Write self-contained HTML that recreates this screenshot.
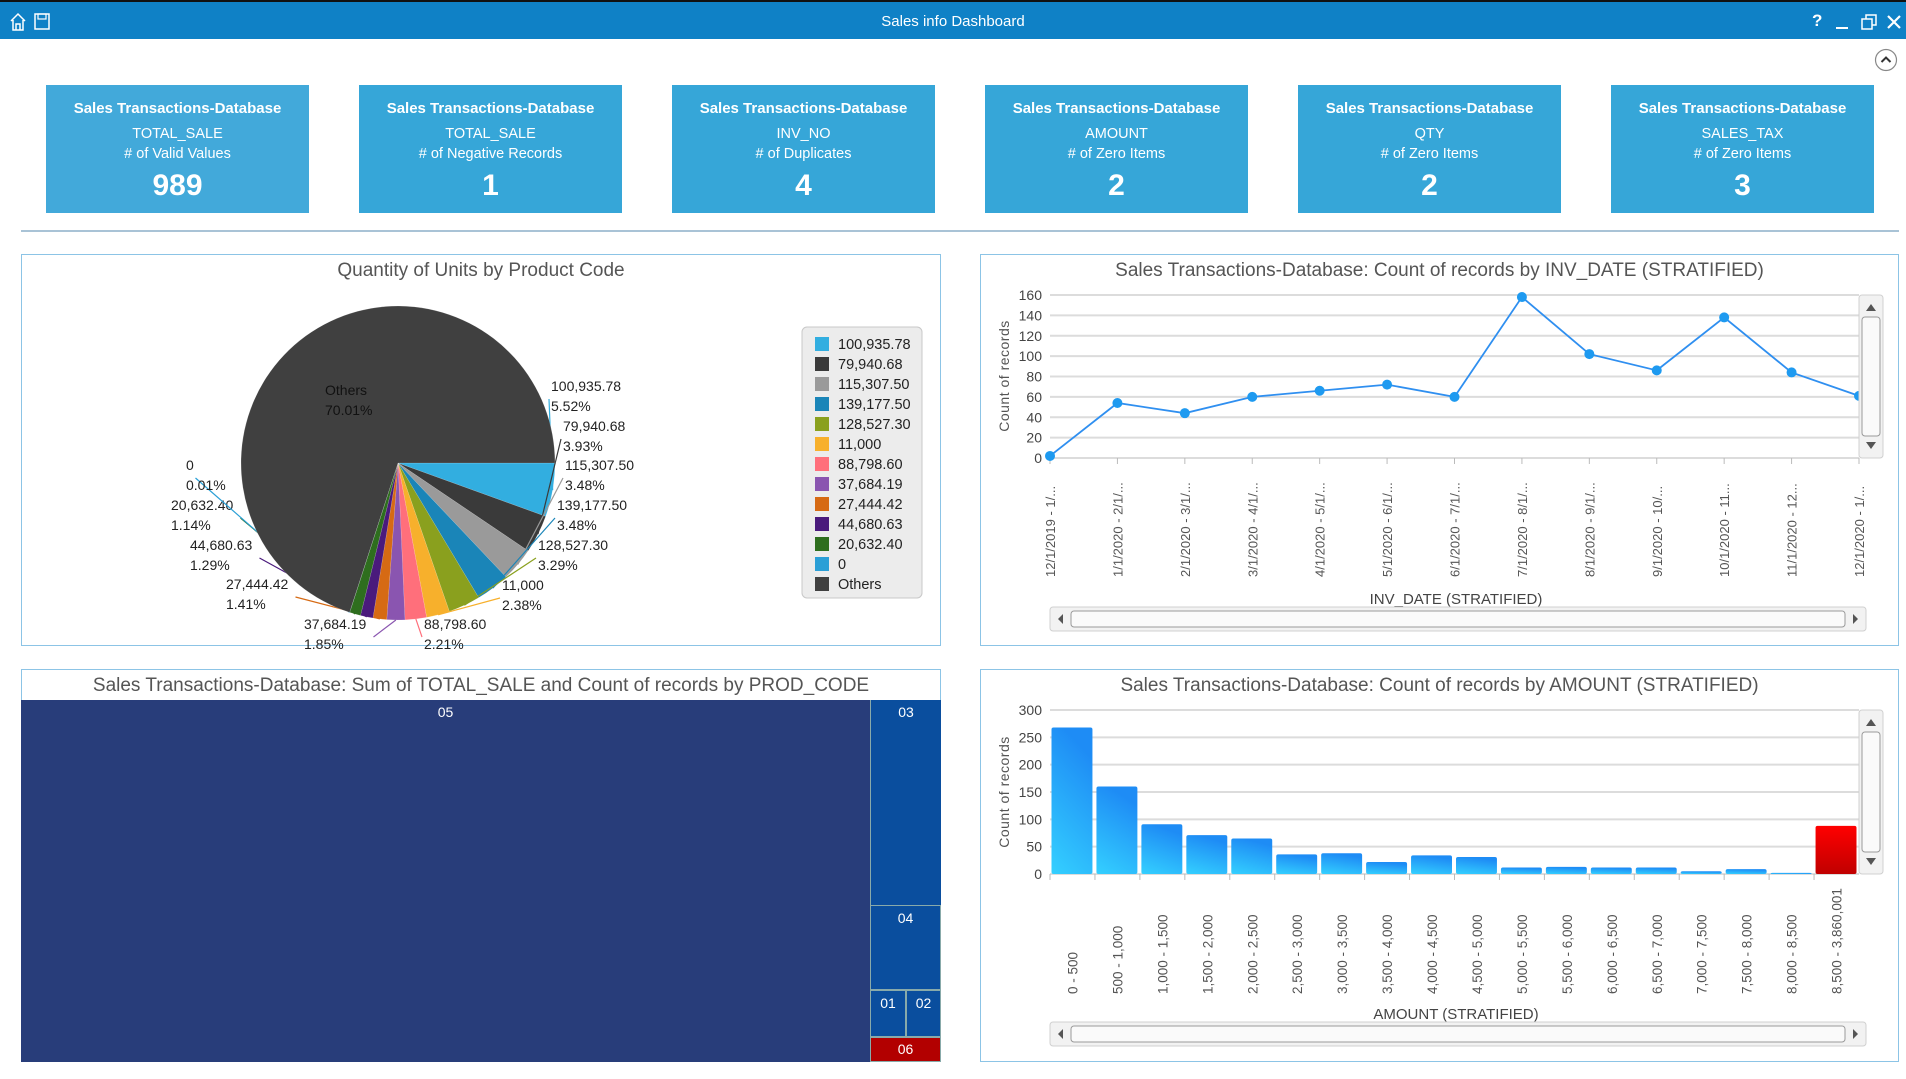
<!DOCTYPE html>
<html><head><meta charset="utf-8">
<style>
*{box-sizing:border-box;margin:0;padding:0}
body{width:1906px;height:1079px;background:#fff;font-family:"Liberation Sans",sans-serif;position:relative;overflow:hidden}
.abs{position:absolute}
#titlebar{left:0;top:0;width:1906px;height:39px;background:#0f81c6;border-top:2px solid #111}
#titlebar .t{position:absolute;left:0;width:100%;top:11px;text-align:center;color:#fff;font-size:15px}
.card{position:absolute;top:85px;width:263px;height:128px;background:#36a6d8;color:#fff;text-align:center}
.card .h{margin-top:15px;font-weight:bold;font-size:15px}
.card .f{margin-top:9px;font-size:14.5px}
.card .m{margin-top:4px;font-size:14.5px}
.card .n{margin-top:7px;font-size:30px;font-weight:bold}
.panel{position:absolute;border:1px solid #8cc4e6;background:#fff}
.ptitle{position:absolute;left:0;width:100%;text-align:center;font-size:19px;color:#555;top:5px}
svg text{font-family:"Liberation Sans",sans-serif}
</style></head><body>
<div id="titlebar" class="abs">
  <svg class="abs" style="left:9px;top:10px" width="44" height="20">
    <path d="M2 9 L9 2 L16 9 M4 8 V18 H14 V8 M7 18 V12 H11 V18" fill="none" stroke="#fff" stroke-width="1.5"/>
    <rect x="26" y="2" width="14" height="15" fill="none" stroke="#fff" stroke-width="1.5"/>
    <rect x="29" y="2" width="8" height="5" fill="none" stroke="#fff" stroke-width="1.2"/>
  </svg>
  <div class="t">Sales info Dashboard</div>
  <div class="abs" style="left:1812px;top:9px;color:#fff;font-weight:bold;font-size:17px">?</div>
  <div class="abs" style="left:1836px;top:25px;width:12px;height:2px;background:#fff"></div>
  <svg class="abs" style="left:1861px;top:12px" width="16" height="16"><rect x="1" y="5" width="10" height="10" fill="none" stroke="#fff" stroke-width="1.5"/><path d="M5 5 V1 H15 V11 H11" fill="none" stroke="#fff" stroke-width="1.5"/></svg>
  <svg class="abs" style="left:1887px;top:13px" width="14" height="14"><path d="M1 1 L13 13 M13 1 L1 13" stroke="#fff" stroke-width="2.2"/></svg>
</div>
<svg class="abs" style="left:1874px;top:48px" width="24" height="24"><circle cx="12" cy="12" r="10.5" fill="#fff" stroke="#888" stroke-width="1.2"/><path d="M7.5 14 L12 9.5 L16.5 14" fill="none" stroke="#333" stroke-width="2"/></svg>

<div class="card" style="left:46px;background:#42a9da"><div class="h">Sales Transactions-Database</div><div class="f">TOTAL_SALE</div><div class="m"># of Valid Values</div><div class="n">989</div></div>
<div class="card" style="left:359px"><div class="h">Sales Transactions-Database</div><div class="f">TOTAL_SALE</div><div class="m"># of Negative Records</div><div class="n">1</div></div>
<div class="card" style="left:672px"><div class="h">Sales Transactions-Database</div><div class="f">INV_NO</div><div class="m"># of Duplicates</div><div class="n">4</div></div>
<div class="card" style="left:985px"><div class="h">Sales Transactions-Database</div><div class="f">AMOUNT</div><div class="m"># of Zero Items</div><div class="n">2</div></div>
<div class="card" style="left:1298px"><div class="h">Sales Transactions-Database</div><div class="f">QTY</div><div class="m"># of Zero Items</div><div class="n">2</div></div>
<div class="card" style="left:1611px"><div class="h">Sales Transactions-Database</div><div class="f">SALES_TAX</div><div class="m"># of Zero Items</div><div class="n">3</div></div>
<div class="abs" style="left:21px;top:230px;width:1878px;height:2px;background:#a9c3d6"></div>

<div class="panel" style="left:21px;top:254px;width:920px;height:392px">
  <div class="ptitle">Quantity of Units by Product Code</div>
</div>
<div class="panel" style="left:980px;top:254px;width:919px;height:392px">
  <div class="ptitle">Sales Transactions-Database: Count of records by INV_DATE (STRATIFIED)</div>
</div>
<div class="panel" style="left:21px;top:669px;width:920px;height:393px">
  <div class="ptitle">Sales Transactions-Database: Sum of TOTAL_SALE and Count of records by PROD_CODE</div>
</div>
<div class="panel" style="left:980px;top:669px;width:919px;height:393px">
  <div class="ptitle">Sales Transactions-Database: Count of records by AMOUNT (STRATIFIED)</div>
</div>

<div class="abs" style="left:21px;top:700px;width:920px;height:362px">
  <div class="abs" style="left:0;top:0;width:849px;height:362px;background:#283d7a;color:#fff;text-align:center;font-size:14px;padding-top:4px">05</div>
  <div class="abs" style="left:849px;top:0;width:71px;height:205px;background:#0a4e9e;color:#fff;text-align:center;font-size:14px;padding-top:4px;border-left:1px solid #8aa;">03</div>
  <div class="abs" style="left:849px;top:205px;width:71px;height:85px;background:#0a4e9e;color:#fff;text-align:center;font-size:14px;padding-top:4px;border:1px solid #8aa">04</div>
  <div class="abs" style="left:849px;top:290px;width:36px;height:47px;background:#0a4e9e;color:#fff;text-align:center;font-size:14px;padding-top:4px;border:1px solid #8aa">01</div>
  <div class="abs" style="left:885px;top:290px;width:35px;height:47px;background:#0a4e9e;color:#fff;text-align:center;font-size:14px;padding-top:4px;border:1px solid #8aa">02</div>
  <div class="abs" style="left:849px;top:337px;width:71px;height:25px;background:#b20000;color:#fff;text-align:center;font-size:14px;padding-top:3px;border:1px solid #8aa">06</div>
</div>

<svg id="charts" class="abs" style="left:0;top:0" width="1906" height="1079"></svg>

<script>
const pieLabels=["100,935.78","79,940.68","115,307.50","139,177.50","128,527.30","11,000","88,798.60","37,684.19","27,444.42","44,680.63","20,632.40","0","Others"];
const piePercents=[5.52,3.93,3.48,3.48,3.29,2.38,2.21,1.85,1.41,1.29,1.14,0.01,70.01];
const pieColors=["#32aee0","#3a3a3a","#9a9a9a","#1a85b8","#8aa01e","#f7b02c","#ff6f7b","#8a55b0","#d66a14","#4a1a7c","#2e6e1e","#2a9fd6","#404040"];
const lineCategories=["12/1/2019 - 1/...","1/1/2020 - 2/1/...","2/1/2020 - 3/1/...","3/1/2020 - 4/1/...","4/1/2020 - 5/1/...","5/1/2020 - 6/1/...","6/1/2020 - 7/1/...","7/1/2020 - 8/1/...","8/1/2020 - 9/1/...","9/1/2020 - 10/...","10/1/2020 - 11...","11/1/2020 - 12...","12/1/2020 - 1/..."];
const lineValues=[2,54,44,60,66,72,60,158,102,86,138,84,61];
const lineTicks=[0,20,40,60,80,100,120,140,160];
const barCategories=["0 - 500","500 - 1,000","1,000 - 1,500","1,500 - 2,000","2,000 - 2,500","2,500 - 3,000","3,000 - 3,500","3,500 - 4,000","4,000 - 4,500","4,500 - 5,000","5,000 - 5,500","5,500 - 6,000","6,000 - 6,500","6,500 - 7,000","7,000 - 7,500","7,500 - 8,000","8,000 - 8,500","8,500 - 3,860,001"];
const barValues=[268,160,91,71,65,36,38,22,34,31,12,13,12,12,5,9,2,88];
const barTicks=[0,50,100,150,200,250,300];

const NS="http://www.w3.org/2000/svg";
const svg=document.getElementById('charts');
function mk(tag,attrs,parent,text){const e=document.createElementNS(NS,tag);for(const k in attrs)e.setAttribute(k,attrs[k]);if(text!==undefined)e.textContent=text;(parent||svg).appendChild(e);return e;}

const defs=mk('defs',{});
const g1=mk('linearGradient',{id:'barGrad',x1:'0',y1:'1',x2:'0.3',y2:'0'},defs);
mk('stop',{offset:'0','stop-color':'#34d0ff'},g1);mk('stop',{offset:'1','stop-color':'#1e8cf5'},g1);
const g2=mk('linearGradient',{id:'redGrad',x1:'0',y1:'1',x2:'0',y2:'0'},defs);
mk('stop',{offset:'0','stop-color':'#c00000'},g2);mk('stop',{offset:'1','stop-color':'#ff0000'},g2);

// ---- PIE ----
const cx=398,cy=463,R=157;
let total=piePercents.reduce((a,b)=>a+b,0);
let ang=0;
const labelPos=[[551,387],[563,427],[565,466],[557,506],[538,546],[502,586],[424,625],[304,625],[226,585],[190,546],[171,506],[186,466]];
piePercents.forEach((p,i)=>{
  const a0=ang, a1=ang+p/total*2*Math.PI; ang=a1;
  const x0=cx+R*Math.cos(a0),y0=cy+R*Math.sin(a0),x1=cx+R*Math.cos(a1),y1=cy+R*Math.sin(a1);
  const large=(a1-a0)>Math.PI?1:0;
  const s=mk('path',{d:`M${cx},${cy} L${x0},${y0} A${R},${R} 0 ${large} 1 ${x1},${y1} Z`,fill:pieColors[i],stroke:'rgba(255,255,255,0.25)','stroke-width':0.5});
  
  
  if(i<labelPos.length){
    const am=(a0+a1)/2, lp=labelPos[i];
    const ex=cx+R*Math.cos(am), ey=cy+R*Math.sin(am);
    const right=lp[0]>cx;
    const lx=right?lp[0]-2:lp[0]+ (pieLabels[i].length*7.5)+2;
    const ly=lp[1]+12;
    const l=mk('line',{x1:ex,y1:ey,x2:lx,y2:ly,stroke:pieColors[i],'stroke-width':1.2});
    
    
    const t=mk('text',{x:lp[0],y:lp[1]+4,'font-size':14,fill:'#222'},undefined,pieLabels[i]);
    
    
    const t2=mk('text',{x:lp[0],y:lp[1]+24,'font-size':14,fill:'#222'},undefined,piePercents[i].toFixed(2)+'%');
    
    
  }
});
const ot=mk('text',{x:325,y:395,'font-size':14,fill:'#111'},undefined,'Others');


const op=mk('text',{x:325,y:415,'font-size':14,fill:'#111'},undefined,piePercents[12].toFixed(2)+'%');


const lg=mk('rect',{x:802,y:327,width:120,height:271,rx:5,fill:'#ececec',stroke:'#c8c8c8'});


pieLabels.forEach((lab,i)=>{
  const y=344+i*20;
  const sw=mk('rect',{x:815,y:y-7,width:14,height:14,fill:pieColors[i]});
  
  
  const t=mk('text',{x:838,y:y+5,'font-size':14.5,fill:'#222'},undefined,lab);
  
  
});

function vscroll(x,y0,y1,name){
  const g=mk('g',{});
  mk('rect',{x:x,y:y0,width:24,height:y1-y0,rx:3,fill:'#f2f2f2',stroke:'#d0d0d0'},g);
  mk('path',{d:`M${x+7},${y0+16} L${x+12},${y0+9} L${x+17},${y0+16}Z`,fill:'#555'},g);
  mk('path',{d:`M${x+7},${y1-16} L${x+12},${y1-9} L${x+17},${y1-16}Z`,fill:'#555'},g);
  mk('rect',{x:x+3,y:y0+22,width:18,height:y1-y0-44,rx:3,fill:'#fafafa',stroke:'#999'},g);
}
function hscroll(x0,x1,y,name){
  const g=mk('g',{});
  mk('rect',{x:x0,y:y,width:x1-x0,height:24,rx:3,fill:'#f2f2f2',stroke:'#d0d0d0'},g);
  mk('path',{d:`M${x0+13},${y+7} L${x0+8},${y+12} L${x0+13},${y+17}Z`,fill:'#555'},g);
  mk('path',{d:`M${x1-13},${y+7} L${x1-8},${y+12} L${x1-13},${y+17}Z`,fill:'#555'},g);
  mk('rect',{x:x0+21,y:y+4,width:x1-x0-42,height:16,rx:3,fill:'#fafafa',stroke:'#999'},g);
}

// ---- LINE CHART ----
const LX0=1050,LX1=1859,LY0=458,LY1=295,LMAX=160;
const lx=i=>LX0+i*(LX1-LX0)/(lineCategories.length-1);
const ly=v=>LY0-(v/LMAX)*(LY0-LY1);
lineTicks.forEach(t=>{
  const gl=mk('line',{x1:LX0,x2:LX1,y1:ly(t),y2:ly(t),stroke:'#dcdcdc','stroke-width':2});
  
  
  const tt=mk('text',{x:LX0-8,y:ly(t)+5,'font-size':14,fill:'#444','text-anchor':'end'},undefined,t);
  
  
});
lineCategories.forEach((c,i)=>{
  mk('line',{x1:lx(i),x2:lx(i),y1:LY0,y2:LY0+6,stroke:'#bbb'});
  const t=mk('text',{x:0,y:0,'font-size':13,fill:'#555',transform:`translate(${lx(i)+5},${LY0+119}) rotate(-90)`},undefined,c);
  
  
});
const pl=mk('polyline',{points:lineValues.map((v,i)=>lx(i)+','+ly(v)).join(' '),fill:'none',stroke:'#2f8ff0','stroke-width':1.8});


lineValues.forEach((v,i)=>{
  const c=mk('circle',{cx:lx(i),cy:ly(v),r:5,fill:'#1e9af0'});
  
  
});
const lyt=mk('text',{x:0,y:0,'font-size':14,fill:'#555','text-anchor':'middle',transform:'translate(1009,376) rotate(-90)','letter-spacing':'0.5'},undefined,'Count of records');


const lxt=mk('text',{x:1456,y:604,'font-size':15,fill:'#444','text-anchor':'middle'},undefined,'INV_DATE (STRATIFIED)');


vscroll(1859,295,458,'line-v-scrollbar');
hscroll(1050,1866,607,'line-h-scrollbar');

// ---- BAR CHART ----
const BX0=1050,BX1=1859,BY0=874,BY1=710,BMAX=300;
const slot=(BX1-BX0)/barCategories.length;
const by=v=>BY0-(v/BMAX)*(BY0-BY1);
barTicks.forEach(t=>{
  const gl=mk('line',{x1:BX0,x2:BX1,y1:by(t),y2:by(t),stroke:'#dcdcdc','stroke-width':2});
  
  
  const tt=mk('text',{x:BX0-8,y:by(t)+5,'font-size':14,fill:'#444','text-anchor':'end'},undefined,t);
  
  
});
barCategories.forEach((c,i)=>{
  const x=BX0+i*slot;
  mk('line',{x1:x,x2:x,y1:BY0,y2:BY0+6,stroke:'#bbb'});
  const last=i===barCategories.length-1;
  const b=mk('rect',{x:x+1.5,y:by(barValues[i]),width:slot-4,height:BY0-by(barValues[i]),rx:2,fill:last?'url(#redGrad)':'url(#barGrad)'});
  
  
  const t=mk('text',{x:0,y:0,'font-size':13.5,fill:'#555',transform:`translate(${x+slot/2+5},${BY0+120}) rotate(-90)`},undefined,c);
  
  
});
const byt=mk('text',{x:0,y:0,'font-size':14,fill:'#555','text-anchor':'middle',transform:'translate(1009,792) rotate(-90)','letter-spacing':'0.5'},undefined,'Count of records');


const bxt=mk('text',{x:1456,y:1019,'font-size':15,fill:'#444','text-anchor':'middle'},undefined,'AMOUNT (STRATIFIED)');


vscroll(1859,710,874,'bar-v-scrollbar');
hscroll(1050,1866,1022,'bar-h-scrollbar');
</script>
</body></html>
